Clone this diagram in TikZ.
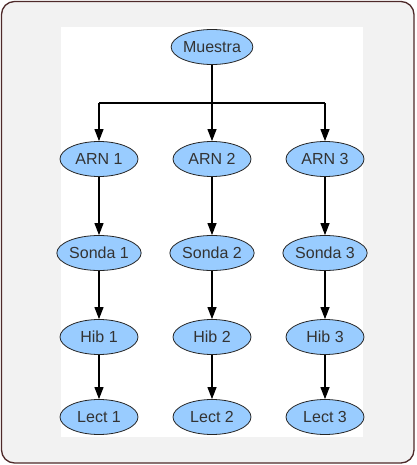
\documentclass[tikz,border=0pt]{standalone}
\usepackage{fontspec}
\setmainfont{Liberation Sans}
\usetikzlibrary{arrows.meta,shapes.geometric}
\definecolor{framebrown}{HTML}{4E2A2A}
\definecolor{panelgray}{HTML}{F2F2F2}
\definecolor{nodeblue}{HTML}{99CCFF}
\definecolor{textgray}{HTML}{333333}
\begin{document}
\begin{tikzpicture}[x=1pt,y=-1pt,>={Triangle[length=12pt,width=9pt]},
  paso/.style={ellipse,draw=black!85,line width=0.8pt,fill=nodeblue,text=textgray,
    minimum width=78pt,minimum height=35pt,inner sep=0pt,font=\fontsize{16}{19}\selectfont},
  flecha/.style={->,line width=1.1pt}]
\useasboundingbox (0,0) rectangle (416,465);
\draw[framebrown,fill=panelgray,line width=1.3pt,rounded corners=13pt] (1.5,1.5) rectangle (414,463);
\fill[white] (61,27) rectangle (363,437);
\node[paso] (muestra) at (212,47) {Muestra};
\node[paso] (arn1) at (99,159) {ARN 1};
\node[paso] (arn2) at (212,159) {ARN 2};
\node[paso] (arn3) at (325,159) {ARN 3};
\node[paso] (sonda1) at (99,253) {Sonda 1};
\node[paso] (sonda2) at (212,253) {Sonda 2};
\node[paso] (sonda3) at (325,253) {Sonda 3};
\node[paso] (hib1) at (99,337) {Hib 1};
\node[paso] (hib2) at (212,337) {Hib 2};
\node[paso] (hib3) at (325,337) {Hib 3};
\node[paso] (lect1) at (99,417) {Lect 1};
\node[paso] (lect2) at (212,417) {Lect 2};
\node[paso] (lect3) at (325,417) {Lect 3};
% reparto desde la muestra
\coordinate (bus) at (212,103);
\draw[line width=1.1pt] (arn1 |- bus) -- (arn3 |- bus);
\draw[flecha] (muestra) -- (arn2);
\draw[flecha] (arn1 |- bus) -- (arn1);
\draw[flecha] (arn3 |- bus) -- (arn3);
% cadenas de cada columna
\foreach \i in {1,2,3} {
  \draw[flecha] (arn\i) -- (sonda\i);
  \draw[flecha] (sonda\i) -- (hib\i);
  \draw[flecha] (hib\i) -- (lect\i);
}
\end{tikzpicture}
\end{document}
